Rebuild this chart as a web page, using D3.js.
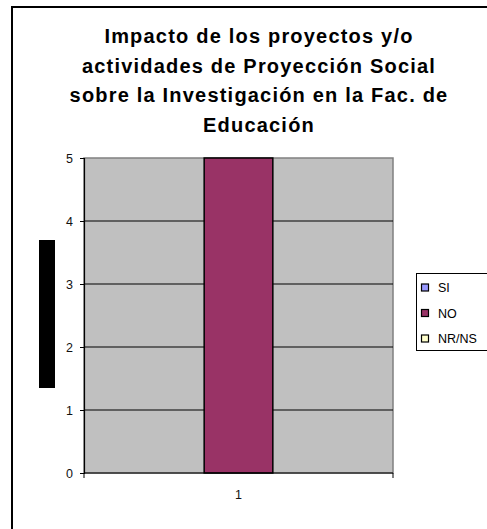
<!DOCTYPE html>
<html><head><meta charset="utf-8">
<script src="https://cdn.jsdelivr.net/npm/d3@7"></script>
<style>body{margin:0;background:#fff}svg{display:block}</style>
</head><body>
<script>
const categories = ["1"];
const seriesNames = ["SI", "NO", "NR/NS"];
const seriesColors = ["#9999FF", "#993366", "#FFFFCC"];
const seriesValues = [[0], [5], [0]];
const yTicks = [0, 1, 2, 3, 4, 5];
const titleLines = ["Impacto de los proyectos y/o", "actividades de Proyección Social", "sobre la Investigación en la Fac. de", "Educación"];

const W = 487, H = 529;
const svg = d3.select("body").append("svg").attr("width", W).attr("height", H);
const font = "'Liberation Sans', Arial, sans-serif";

// outer chart border
svg.append("rect").attr("x", 12).attr("y", 7).attr("width", 500).attr("height", 540)
  .attr("fill", "none").attr("stroke", "#000").attr("stroke-width", 2);

// title
const title = svg.append("text").attr("text-anchor", "middle").attr("font-family", font)
  .attr("font-weight", "bold").attr("font-size", 20).attr("letter-spacing", 1.2).attr("fill", "#000");
titleLines.forEach((t, i) => {
  title.append("tspan").attr("x", 259).attr("y", 43 + i * 29.5).text(t);
});

const plot = {l: 84, r: 393, t: 158, b: 473};
const x0 = d3.scaleBand().domain(categories).range([plot.l, plot.r]).paddingInner(0).paddingOuter(0);
const x1 = d3.scaleBand().domain(seriesNames).range([0, x0.bandwidth()]).paddingInner(0).paddingOuter(0.75);
const y = d3.scaleLinear().domain([0, 5]).range([plot.b, plot.t]);

// plot background
svg.append("rect").attr("x", plot.l).attr("y", plot.t).attr("width", plot.r - plot.l).attr("height", plot.b - plot.t)
  .attr("fill", "#C0C0C0").attr("stroke", "#808080").attr("stroke-width", 1.5);

// gridlines
svg.append("g").selectAll("line").data(yTicks.filter(d => d > 0 && d < 5)).join("line")
  .attr("x1", plot.l).attr("x2", plot.r).attr("y1", d => y(d)).attr("y2", d => y(d))
  .attr("stroke", "#000").attr("stroke-width", 1.2);

// bars
categories.forEach((c, ci) => {
  seriesNames.forEach((s, si) => {
    const v = seriesValues[si][ci];
    if (v <= 0) return;
    svg.append("rect").attr("x", x0(c) + x1(s)).attr("y", y(v))
      .attr("width", x1.bandwidth()).attr("height", y(0) - y(v))
      .attr("fill", seriesColors[si]).attr("stroke", "#000").attr("stroke-width", 1.5);
  });
});

// y axis
const yAxis = d3.axisLeft(y).tickValues(yTicks).tickSize(4).tickPadding(7).tickFormat(d3.format("d"));
const gy = svg.append("g").attr("transform", `translate(${plot.l},0)`).call(yAxis);
gy.select(".domain").attr("stroke", "#000").attr("stroke-width", 1.2);
gy.selectAll("text").attr("font-family", font).attr("font-size", 12.5).attr("fill", "#111");

// x axis
const gx = svg.append("g").attr("transform", `translate(0,${plot.b})`);
gx.append("line").attr("x1", plot.l).attr("x2", plot.r).attr("stroke", "#000").attr("stroke-width", 1.2);
[plot.l, plot.r].forEach(px => gx.append("line").attr("x1", px).attr("x2", px).attr("y1", 0).attr("y2", 5).attr("stroke", "#000"));
gx.selectAll("text.cat").data(categories).join("text").attr("class", "cat")
  .attr("x", d => x0(d) + x0.bandwidth() / 2).attr("y", 26).attr("text-anchor", "middle")
  .attr("font-family", font).attr("font-size", 12.5).attr("fill", "#111").text(d => d);

// y axis title placeholder (black block)
svg.append("rect").attr("x", 39).attr("y", 240).attr("width", 16).attr("height", 148).attr("fill", "#000");

// legend
const lg = svg.append("g");
lg.append("rect").attr("x", 416.5).attr("y", 273.5).attr("width", 80).attr("height", 77)
  .attr("fill", "#fff").attr("stroke", "#000");
seriesNames.forEach((s, i) => {
  const yy = 287.5 + i * 25.5;
  lg.append("rect").attr("x", 421.5).attr("y", yy - 3.5).attr("width", 7).attr("height", 7)
    .attr("fill", seriesColors[i]).attr("stroke", "#000").attr("stroke-width", 1.2);
  lg.append("text").attr("x", 438).attr("y", yy + 4.5).attr("font-family", font).attr("font-size", 12.5)
    .attr("fill", "#000").text(s);
});
</script>
</body></html>
